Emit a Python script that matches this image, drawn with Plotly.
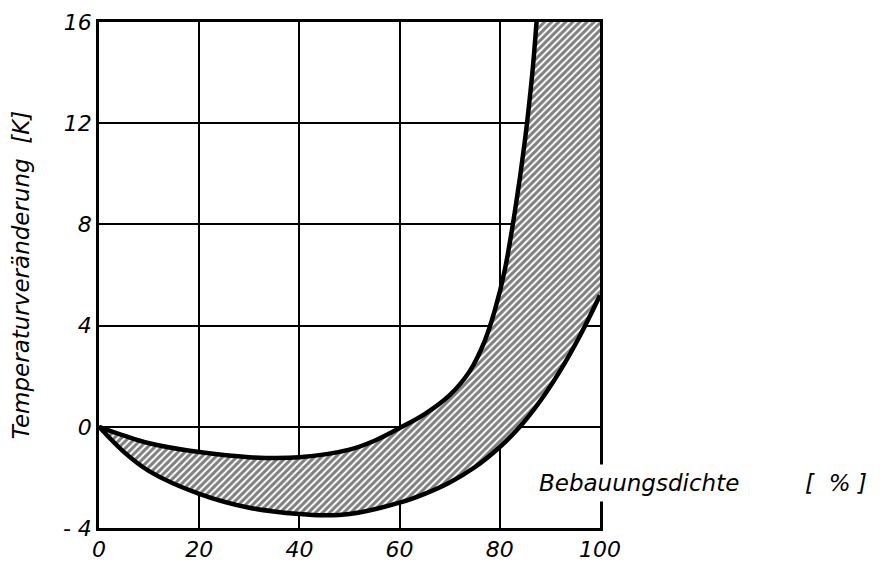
import plotly.graph_objects as go

# Upper boundary of the band (less negative curve)
upper_x = [0, 5, 10, 20, 30, 40, 50, 55, 60, 65, 70, 74, 77, 79, 81, 83, 85, 86.5, 88, 100]
upper_y = [0, -0.35, -0.65, -1.0, -1.2, -1.2, -0.9, -0.55, -0.05, 0.5, 1.25, 2.2, 3.4, 4.6, 6.2, 8.5, 11.3, 14.0, 17.5, 40.0]

# Lower boundary of the band
lower_x = [0, 5, 10, 20, 30, 40, 45, 50, 60, 65, 70, 75, 80, 84, 88, 92, 96, 100]
lower_y = [0, -1.0, -1.75, -2.65, -3.2, -3.45, -3.5, -3.45, -3.0, -2.65, -2.2, -1.6, -0.8, 0.0, 1.0, 2.2, 3.6, 5.2]

x_ticks = [0, 20, 40, 60, 80, 100]
y_ticks = [-4, 0, 4, 8, 12, 16]
y_tick_text = ["- 4", "0", "4", "8", "12", "16"]

font_family = "DejaVu Sans, Liberation Sans, sans-serif"

fig = go.Figure()

# hatched band
fig.add_trace(go.Scatter(
    x=upper_x + lower_x[::-1],
    y=upper_y + lower_y[::-1],
    fill="toself",
    mode="lines",
    line=dict(width=0, color="rgba(0,0,0,0)", shape="spline", smoothing=1.0),
    fillcolor="white",
    fillpattern=dict(shape="/", fgcolor="black", bgcolor="white", size=5, solidity=0.6),
    hoverinfo="skip",
    showlegend=False,
))

for xs, ys in [(upper_x, upper_y), (lower_x, lower_y)]:
    fig.add_trace(go.Scatter(
        x=xs, y=ys, mode="lines",
        line=dict(color="black", width=4.5, shape="spline", smoothing=1.0),
        showlegend=False, hoverinfo="skip",
    ))

fig.update_layout(
    width=891, height=568,
    margin=dict(l=91, r=299, t=14, b=48),
    paper_bgcolor="white", plot_bgcolor="white",
    font=dict(family=font_family, color="black", size=21, style="italic"),
    showlegend=False,
)

fig.update_xaxes(
    range=[0, 100], tickvals=x_ticks, ticktext=[str(v) for v in x_ticks],
    showgrid=True, gridcolor="black", gridwidth=2,
    showline=True, linecolor="black", linewidth=2.5, mirror=True,
    zeroline=False, ticks="", ticklen=0, automargin=False,
    tickfont=dict(size=22, style="italic", family=font_family),
)
fig.update_yaxes(
    range=[-4, 16], tickvals=y_ticks, ticktext=y_tick_text,
    showgrid=True, gridcolor="black", gridwidth=2,
    showline=True, linecolor="black", linewidth=2.5, mirror=True,
    zeroline=False, ticks="", ticklen=0, automargin=False,
    tickfont=dict(size=22, style="italic", family=font_family),
    title=dict(text="Temperaturveränderung&nbsp;&nbsp;[K]", standoff=36,
               font=dict(size=23, style="italic", family=font_family)),
)

fig.add_annotation(
    text="Bebauungsdichte&nbsp;&nbsp;&nbsp;&nbsp;&nbsp;&nbsp;&nbsp;&nbsp;&nbsp;[&nbsp;&nbsp;%&nbsp;]",
    xref="paper", yref="paper", x=0.866, y=0.088,
    xanchor="left", yanchor="middle", showarrow=False,
    bgcolor="white", borderpad=5,
    font=dict(size=23, style="italic", family=font_family),
)

fig.write_html("out.html")
